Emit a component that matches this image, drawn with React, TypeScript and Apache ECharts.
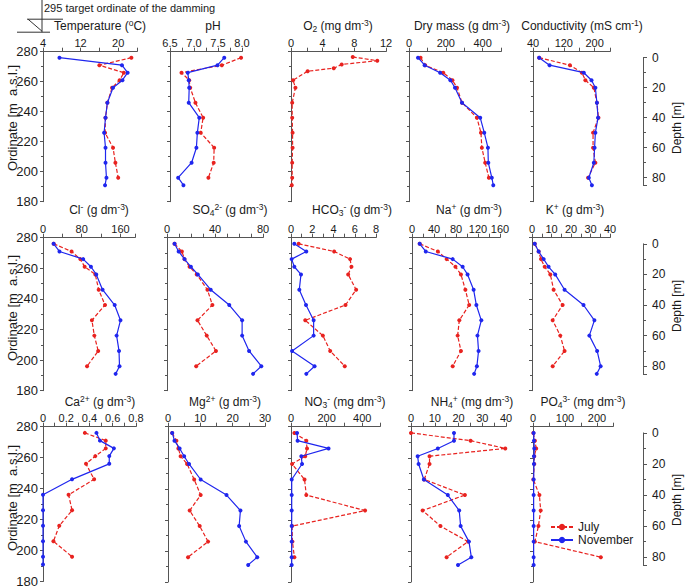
import React, { useEffect, useRef } from 'react';
import * as echarts from 'echarts';

// ---------- data ----------
const ORD = [276, 271, 266, 261, 256, 246, 236, 226, 216, 206, 196, 191];
const ORD_O2 = [276.5, 274, 271.5, 269, 267, 261, 256, 246, 236, 226, 216, 206, 196, 191];
const ORD_MIN = 180;
const ORD_MAX = 280;
const ORD_TICKS = [180, 200, 220, 240, 260, 280];
const DEPTH_ZERO_ORD = 276;
const DEPTH_MAX = 85;
const DEPTH_TICKS = [0, 20, 40, 60, 80];
const TARGET_ORD = 295;

const tempJul = [22.8, 16.0, 21.2, 20.3, 18.7, 17.7, 17.3, 17.2, 18.9, 19.4, 20.0];
const tempNov = [7.5, 20.8, 22.0, 20.9, 18.9, 17.7, 17.3, 17.0, 17.3, 17.3, 17.5, 17.2];
const phJul = [7.98, 7.58, 6.74, 6.9, 6.92, 7.03, 7.19, 7.14, 7.42, 7.41, 7.3];
const phNov = [7.63, 7.49, 6.87, 6.89, 6.9, 6.89, 7.11, 7.07, 7.05, 6.95, 6.67, 6.78];
const o2Jul = [7.8, 10.9, 6.4, 5.4, 2.1, 0.26, 0.56, 0.15, 0.15, 0.2, 0.2, 0.15, 0.15, 0.1];
const dryJul = [63, 88, 186, 236, 261, 288, 369, 391, 396, 414, 434];
const dryNov = [49, 85, 169, 225, 250, 288, 387, 409, 429, 431, 450, 458];
const condJul = [56, 136, 167, 176, 198, 206, 210, 196, 196, 202, 183];
const condNov = [56, 83, 172, 192, 202, 206, 209, 202, 200, 198, 185, 193];
const clJul = [22, 59, 77, 86, 108, 115, 128, 101, 106, 114, 91];
const clNov = [22, 34, 83, 99, 110, 123, 148, 160, 152, 157, 158, 150];
const so4Jul = [6.3, 12.4, 14.6, 18.8, 24.8, 33.7, 37.8, 25.4, 33.1, 40.8, 24.3];
const so4Nov = [6.3, 9.7, 14.6, 19.9, 25.7, 36.4, 51.9, 62.6, 62.6, 68.4, 78.6, 71.7];
const hco3Jul = [0.72, 4.06, 5.56, 5.69, 5.38, 6.13, 5.13, 1.34, 3.0, 3.69, 5.06];
const hco3Nov = [0.31, 1.44, 0.06, 0.31, 0.94, 0.78, 1.41, 2.13, 2.13, 0.1, 2.22, 1.44];
const naJul = [14, 47, 63, 79, 89, 97, 104, 86, 83, 89, 74];
const naNov = [14, 25, 74, 92, 101, 112, 117, 126, 119, 121, 118, 113];
const kJul = [1.4, 3.4, 4.6, 6.5, 9.4, 11.1, 15.7, 10.6, 14.5, 16.7, 10.6];
const kNov = [1.4, 3.4, 6.0, 8.5, 11.9, 16.7, 26.4, 32.0, 29.4, 33.4, 35.2, 33.2];
const caJul = [0.36, 0.54, 0.54, 0.45, 0.37, 0.44, 0.22, 0.25, 0.14, 0.09, 0.25];
const caNov = [0.46, 0.49, 0.61, 0.57, 0.57, 0.25, 0, 0, 0, 0, 0, 0];
const mgJul = [1.3, 2.6, 3.2, 3.9, 5.9, 8.1, 10.1, 6.7, 9.8, 12.4, 6.2];
const mgNov = [1.3, 2.0, 3.6, 5.0, 6.5, 10.1, 18.1, 22.4, 22.0, 24.1, 27.6, 24.8];
const no3Jul = [19, 86, 90, 80, 6, 76, 86, 416, 6, 8, 19];
const no3Nov = [34, 37, 211, 58, 62, 4, 4, 4, 4, 4, 4, 4];
const nh4Jul = [0, 25.1, 39.7, 7.8, 7.8, 5.6, 22.7, 4.9, 12.4, 24.0, 15.0];
const nh4Nov = [18.1, 18.1, 11.3, 2.8, 3.2, 5.4, 15.5, 20.3, 20.9, 24.4, 25.4, 19.8];
const po4Jul = [1, 6, 10, 4, 4, 1, 20, 24, 17, 6, 212];
const po4Nov = [2, 3, 4, 3, 3, 2, 2, 2, 2, 2, 2, 2];

// tick labels shown on each top axis
const tempTicks = [4, 12, 20];
const phTicks = [6.5, 7.0, 7.5, 8.0];
const o2Ticks = [0, 4, 8, 12];
const dryTicks = [0, 200, 400];
const condTicks = [40, 120, 200];
const clTicks = [0, 80, 160];
const so4Ticks = [0, 40, 80];
const hco3Ticks = [0, 2, 4, 6, 8];
const naTicks = [0, 40, 80, 120, 160];
const kTicks = [0, 10, 20, 30, 40];
const caTicks = [0, 0.2, 0.4, 0.6, 0.8];
const mgTicks = [0, 10, 20, 30];
const no3Ticks = [0, 200, 400];
const nh4Ticks = [0, 10, 20, 30, 40];
const po4Ticks = [0, 100, 200];

// ---------- styles / layout ----------
const FONT = '"Liberation Sans", Arial, Helvetica, sans-serif';
const RED = '#e8221f';
const BLUE = '#1f26ee';
const AXIS = '#555555';
const TXT = '#1a1a1a';

const ROWS = [
  { top: 51.7, height: 150, titleY: 26, labelY: 118, depthLabelY: 128 },
  { top: 237.7, height: 153, titleY: 210, labelY: 308, depthLabelY: 306 },
  { top: 426.7, height: 155.3, titleY: 402, labelY: 498, depthLabelY: 500 },
];
const DEPTH_X = 643;

type Panel = {
  title: string; row: number; col: number; left: number; width: number; titleX: number;
  min: number; max: number; interval: number; ticks: number[]; dec: number;
  jul: number[]; nov: number[]; julOrd?: number[];
};

const PANELS: Panel[] = [
  { title: 'Temperature ({sup|o}C)', row: 0, col: 0, left: 43, width: 94, titleX: 100, min: 4, max: 24, interval: 4, ticks: tempTicks, dec: 0, jul: tempJul, nov: tempNov },
  { title: 'pH', row: 0, col: 1, left: 170, width: 72, titleX: 213, min: 6.5, max: 8, interval: 0.25, ticks: phTicks, dec: 1, jul: phJul, nov: phNov },
  { title: 'O{sub|2} (mg dm{sup|-3})', row: 0, col: 2, left: 291, width: 95, titleX: 338, min: 0, max: 12, interval: 2, ticks: o2Ticks, dec: 0, jul: o2Jul, nov: [], julOrd: ORD_O2 },
  { title: 'Dry mass (g dm{sup|-3})', row: 0, col: 3, left: 409, width: 92, titleX: 462, min: 0, max: 500, interval: 100, ticks: dryTicks, dec: 0, jul: dryJul, nov: dryNov },
  { title: 'Conductivity (mS cm{sup|-1})', row: 0, col: 4, left: 533, width: 77, titleX: 582, min: 40, max: 240, interval: 40, ticks: condTicks, dec: 0, jul: condJul, nov: condNov },
  { title: 'Cl{sup|-} (g dm{sup|-3})', row: 1, col: 0, left: 43, width: 92, titleX: 99, min: 0, max: 190, interval: 40, ticks: clTicks, dec: 0, jul: clJul, nov: clNov },
  { title: 'SO{sub|4}{sup|2-} (g dm{sup|-3})', row: 1, col: 1, left: 167, width: 96, titleX: 230, min: 0, max: 80, interval: 10, ticks: so4Ticks, dec: 0, jul: so4Jul, nov: so4Nov },
  { title: 'HCO{sub|3}{sup|-} (g dm{sup|-3})', row: 1, col: 2, left: 291, width: 85, titleX: 352, min: 0, max: 8, interval: 1, ticks: hco3Ticks, dec: 0, jul: hco3Jul, nov: hco3Nov },
  { title: 'Na{sup|+} (g dm{sup|-3})', row: 1, col: 3, left: 412, width: 88, titleX: 469, min: 0, max: 160, interval: 20, ticks: naTicks, dec: 0, jul: naJul, nov: naNov },
  { title: 'K{sup|+} (g dm{sup|-3})', row: 1, col: 4, left: 532, width: 78, titleX: 575, min: 0, max: 40, interval: 5, ticks: kTicks, dec: 0, jul: kJul, nov: kNov },
  { title: 'Ca{sup|2+} (g dm{sup|-3})', row: 2, col: 0, left: 43, width: 93, titleX: 100, min: 0, max: 0.8, interval: 0.1, ticks: caTicks, dec: 1, jul: caJul, nov: caNov },
  { title: 'Mg{sup|2+} (g dm{sup|-3})', row: 2, col: 1, left: 168, width: 97, titleX: 225, min: 0, max: 30, interval: 5, ticks: mgTicks, dec: 0, jul: mgJul, nov: mgNov },
  { title: 'NO{sub|3}{sup|-} (mg dm{sup|-3})', row: 2, col: 2, left: 291, width: 89, titleX: 345, min: 0, max: 500, interval: 100, ticks: no3Ticks, dec: 0, jul: no3Jul, nov: no3Nov },
  { title: 'NH{sub|4}{sup|+} (mg dm{sup|-3})', row: 2, col: 3, left: 411, width: 95, titleX: 472, min: 0, max: 40, interval: 5, ticks: nh4Ticks, dec: 0, jul: nh4Jul, nov: nh4Nov },
  { title: 'PO{sub|4}{sup|3-} (mg dm{sup|-3})', row: 2, col: 4, left: 533, width: 80, titleX: 583, min: 0, max: 250, interval: 50, ticks: po4Ticks, dec: 0, jul: po4Jul, nov: po4Nov },
];

const RICH = {
  sup: { fontSize: 8.5, lineHeight: 8, verticalAlign: 'top', fontFamily: FONT, fill: TXT },
  sub: { fontSize: 8.5, lineHeight: 8, verticalAlign: 'bottom', fontFamily: FONT, fill: TXT },
};

const pairs = (vals: number[], ords: number[]) => vals.map((v, i) => [v, ords[i]]);

function fmtTick(ticks: number[], dec: number) {
  return (v: number) => {
    const hit = ticks.some((t) => Math.abs(t - v) < 1e-7);
    if (!hit) return '';
    if (Math.abs(v) < 1e-9) return '0';
    return v.toFixed(dec);
  };
}

function buildOption() {
  const grid: any[] = [];
  const xAxis: any[] = [];
  const yAxis: any[] = [];
  const series: any[] = [];
  PANELS.forEach((p, i) => {
    const r = ROWS[p.row];
    grid.push({ left: p.left, top: r.top, width: p.width, height: r.height });
    xAxis.push({
      gridIndex: i, type: 'value', position: 'top', min: p.min, max: p.max, interval: p.interval,
      axisLine: { show: true, onZero: false, lineStyle: { color: AXIS, width: 1 } },
      axisTick: { show: true, length: 4, lineStyle: { color: AXIS } },
      axisLabel: { margin: 3, fontSize: 11, color: TXT, fontFamily: FONT, formatter: fmtTick(p.ticks, p.dec), showMinLabel: true, showMaxLabel: true },
      splitLine: { show: false },
    });
    yAxis.push({
      gridIndex: i, type: 'value', min: ORD_MIN, max: ORD_MAX, interval: 20,
      axisLine: { show: true, onZero: false, lineStyle: { color: AXIS, width: 1 } },
      axisTick: { show: true, length: 3, lineStyle: { color: AXIS } },
      minorTick: { show: true, splitNumber: 2, length: 2, lineStyle: { color: AXIS } },
      axisLabel: { show: p.col === 0, margin: 5, fontSize: 13, color: TXT, fontFamily: FONT, formatter: fmtTick(ORD_TICKS, 0) },
      splitLine: { show: false },
    });
    if (p.jul.length) {
      series.push({
        name: 'July', type: 'line', xAxisIndex: i, yAxisIndex: i, z: 2,
        data: pairs(p.jul, p.julOrd ?? ORD),
        symbol: 'circle', symbolSize: 4, showSymbol: true,
        lineStyle: { color: RED, width: 1.2, type: [4, 2] },
        itemStyle: { color: RED },
      });
    }
    if (p.nov.length) {
      series.push({
        name: 'November', type: 'line', xAxisIndex: i, yAxisIndex: i, z: 3,
        data: pairs(p.nov, ORD),
        symbol: 'circle', symbolSize: 4, showSymbol: true,
        lineStyle: { color: BLUE, width: 1.2 },
        itemStyle: { color: BLUE },
      });
    }
  });
  ROWS.forEach((r, k) => {
    const scale = r.height / (ORD_MAX - ORD_MIN);
    const gi = PANELS.length + k;
    grid.push({ left: DEPTH_X - 1, width: 1, top: r.top + (ORD_MAX - DEPTH_ZERO_ORD) * scale, height: DEPTH_MAX * scale });
    xAxis.push({ gridIndex: gi, type: 'value', show: false, min: 0, max: 1 });
    yAxis.push({
      gridIndex: gi, type: 'value', position: 'right', inverse: true, min: 0, max: DEPTH_MAX, interval: 20,
      axisLine: { show: true, onZero: false, lineStyle: { color: AXIS, width: 1 } },
      axisTick: { show: true, length: 4, lineStyle: { color: AXIS } },
      minorTick: { show: true, splitNumber: 2, length: 3, lineStyle: { color: AXIS } },
      axisLabel: { margin: 9, fontSize: 12, color: TXT, fontFamily: FONT, formatter: fmtTick(DEPTH_TICKS, 0), showMaxLabel: false },
      splitLine: { show: false },
    });
  });
  return {
    animation: false,
    backgroundColor: '#ffffff',
    grid, xAxis, yAxis, series,
    legend: {
      data: ['July', 'November'], orient: 'vertical', left: 550, top: 521,
      itemWidth: 22, itemHeight: 8, itemGap: 1, padding: 0,
      textStyle: { fontSize: 12, color: TXT, fontFamily: FONT },
    },
  };
}

function buildGraphic(ax: number, y295: number) {
  const g: any[] = [];
  PANELS.forEach((p) => {
    g.push({
      type: 'text', x: p.titleX, y: ROWS[p.row].titleY,
      style: { text: p.title, rich: RICH, fontSize: 12, lineHeight: 15, fontFamily: FONT, fill: TXT, align: 'center', verticalAlign: 'middle' },
    });
  });
  ROWS.forEach((r) => {
    g.push({
      type: 'text', x: 12, y: r.labelY, rotation: Math.PI / 2,
      style: { text: 'Ordinate [m  a.s.l.]', fontSize: 13, fontFamily: FONT, fill: TXT, align: 'center', verticalAlign: 'middle' },
    });
    g.push({
      type: 'text', x: 677, y: r.depthLabelY, rotation: Math.PI / 2,
      style: { text: 'Depth [m]', fontSize: 12, fontFamily: FONT, fill: TXT, align: 'center', verticalAlign: 'middle' },
    });
  });
  const st = { stroke: '#333', lineWidth: 1 };
  const vx = ax - 1;
  g.push({ type: 'line', shape: { x1: vx, y1: 0, x2: vx, y2: y295 + 3 }, style: st });
  g.push({ type: 'line', shape: { x1: vx - 15, y1: y295 - 10, x2: vx + 21, y2: y295 - 10 }, style: st });
  g.push({ type: 'line', shape: { x1: vx - 14, y1: y295 - 10, x2: vx, y2: y295 + 2 }, style: st });
  g.push({ type: 'line', shape: { x1: vx - 25, y1: y295 + 3, x2: vx + 8, y2: y295 + 3 }, style: st });
  g.push({
    type: 'text', x: ax + 1, y: 8,
    style: { text: `${TARGET_ORD} target ordinate of the damming`, fontSize: 11, fontFamily: FONT, fill: TXT, align: 'left', verticalAlign: 'middle' },
  });
  return g;
}

export default function App() {
  const ref = useRef<HTMLDivElement>(null);
  useEffect(() => {
    const el = ref.current!;
    const chart = echarts.init(el, undefined, { renderer: 'svg' });
    chart.setOption(buildOption() as any);
    const p = chart.convertToPixel({ gridIndex: 0 } as any, [PANELS[0].min, TARGET_ORD]) as number[];
    chart.setOption({ graphic: buildGraphic(p[0], p[1]) } as any);
    return () => chart.dispose();
  }, []);
  return (
    <div
      ref={ref}
      style={{ position: 'fixed', left: 0, top: 0, width: 685, height: 588, background: '#fff' }}
    />
  );
}
